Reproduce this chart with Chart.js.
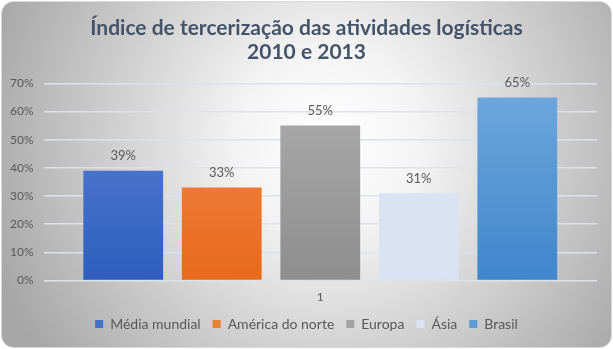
<!DOCTYPE html>
<html>
<head>
<meta charset="utf-8">
<script src="https://cdn.jsdelivr.net/npm/chart.js@4/dist/chart.umd.min.js"></script>
<style>
    html, body { margin: 0; padding: 0; background: #ffffff; }
    #wrap { width: 613px; height: 349px; position: relative; }
</style>
</head>
<body>
<div id="wrap"><canvas id="chart"></canvas></div>
<script>
// data
const categories = ['1'];
const seriesNames = ['Média mundial', 'América do norte', 'Europa', 'Ásia', 'Brasil'];
const seriesValues = [39, 33, 55, 31, 65];
const titleLines = ['Índice de tercerização das atividades logísticas', '2010 e 2013'];
const yMax = 70;
const yStep = 10;

// bar colours (top, bottom of the gradient)
const topColors = ['#5d83d2', '#f08c52', '#adadad', '#dae3f3', '#70a8de'];
const bottomColors = ['#2d5ebf', '#e8691a', '#8d8d8d', '#dae3f3', '#3f86cc'];
const legendColors = ['#4472c4', '#ed7d31', '#a5a5a5', '#dae3f3', '#5b9bd5'];

const textColor = '#595959';
const fontFamily = 'Lato, "Open Sans", sans-serif';

function barGradient(ctx, i) {
    const area = ctx.chart.chartArea;
    if (!area) return topColors[i];
    const g = ctx.chart.ctx.createLinearGradient(0, area.top, 0, area.bottom);
    g.addColorStop(0, topColors[i]);
    g.addColorStop(1, bottomColors[i]);
    return g;
}

const backgroundPlugin = {
    id: 'bg',
    beforeDraw(chart) {
        const c = chart.ctx;
        const w = chart.width, h = chart.height;
        c.save();
        const g = c.createRadialGradient(330, 140, 0, 330, 140, 360);
        g.addColorStop(0, '#ffffff');
        g.addColorStop(0.25, '#f4f4f4');
        g.addColorStop(1, '#a6a6a6');
        c.beginPath();
        c.roundRect(1.5, 1.5, w - 3, h - 3, 12);
        c.fillStyle = g;
        c.fill();
        c.strokeStyle = '#d9d9d9';
        c.lineWidth = 1;
        c.stroke();
        c.restore();
    }
};

const labelPlugin = {
    id: 'valueLabels',
    afterDatasetsDraw(chart) {
        const c = chart.ctx;
        c.save();
        c.font = '13px ' + fontFamily;
        c.fillStyle = textColor;
        c.textAlign = 'center';
        c.textBaseline = 'bottom';
        chart.data.datasets.forEach((ds, i) => {
            const meta = chart.getDatasetMeta(i);
            meta.data.forEach((bar, j) => {
                c.fillText(ds.data[j] + '%', bar.x, bar.y - 8);
            });
        });
        c.restore();
    }
};

new Chart(document.getElementById('chart'), {
    type: 'bar',
    data: {
        labels: categories,
        datasets: seriesNames.map((name, i) => ({
            label: name,
            data: [seriesValues[i]],
            backgroundColor: ctx => barGradient(ctx, i),
            borderColor: legendColors[i],
            borderWidth: 0
        }))
    },
    options: {
        responsive: true,
        maintainAspectRatio: false,
        animation: false,
        datasets: {
            bar: { categoryPercentage: 0.89, barPercentage: 0.81 }
        },
        layout: { padding: { left: 0, right: 0, top: 6, bottom: 8 } },
        plugins: {
            title: {
                display: true,
                text: titleLines,
                color: '#44546a',
                font: { family: fontFamily, size: 21, weight: 'bold', lineHeight: 1.15 },
                padding: { top: 10, bottom: 19 }
            },
            legend: {
                position: 'bottom',
                labels: {
                    color: textColor,
                    font: { family: fontFamily, size: 14 },
                    boxWidth: 8,
                    boxHeight: 8,
                    padding: 12,
                    generateLabels: chart => chart.data.datasets.map((ds, i) => ({
                        text: ds.label,
                        fillStyle: legendColors[i],
                        strokeStyle: legendColors[i],
                        lineWidth: 0,
                        fontColor: textColor,
                        datasetIndex: i
                    }))
                }
            },
            tooltip: { enabled: false }
        },
        scales: {
            x: {
                grid: { display: false },
                border: { display: false },
                ticks: { color: textColor, font: { family: fontFamily, size: 12 }, padding: 1 }
            },
            y: {
                min: 0,
                max: yMax,
                ticks: {
                    stepSize: yStep,
                    color: textColor,
                    font: { family: fontFamily, size: 12 },
                    padding: 10,
                    callback: v => v + '%'
                },
                grid: { color: '#dde2e8', lineWidth: 1.5, drawTicks: false },
                border: { display: false }
            },
            // empty right axis, only keeps a margin on the right
            yRight: {
                position: 'right',
                min: 0,
                max: yMax,
                ticks: { display: false },
                grid: { display: false },
                border: { display: false },
                afterFit: scale => { scale.width = 16; }
            }
        }
    },
    plugins: [backgroundPlugin, labelPlugin]
});
</script>
</body>
</html>
